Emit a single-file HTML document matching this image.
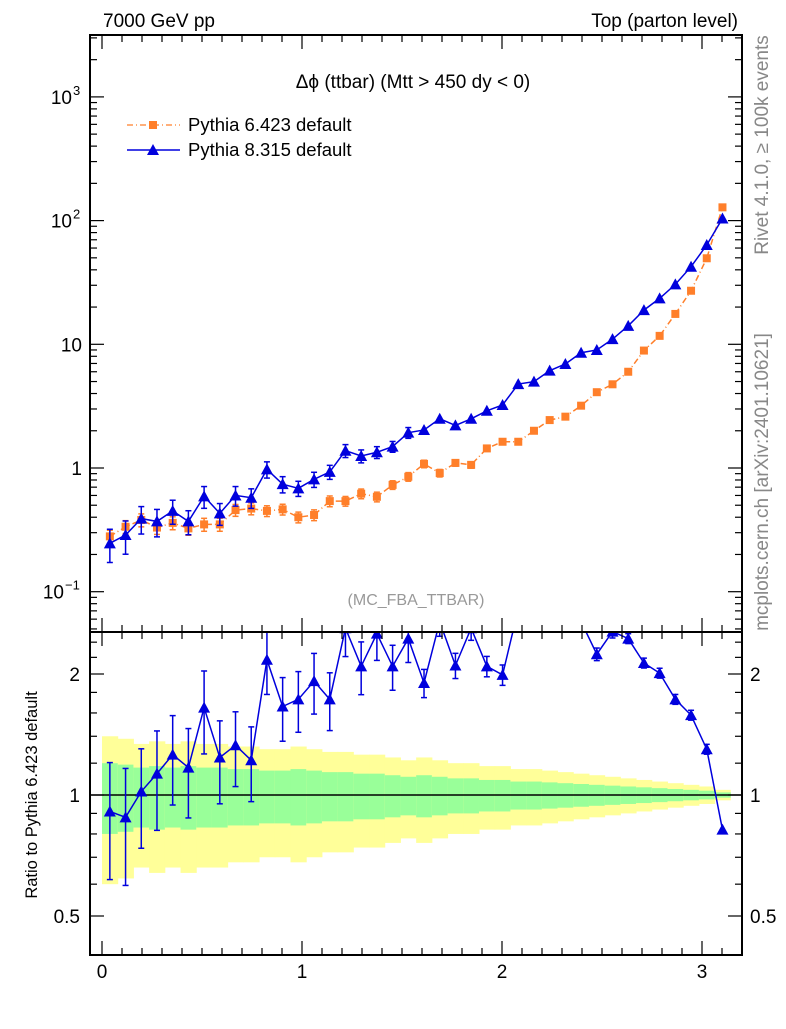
<!DOCTYPE html>
<html><head><meta charset="utf-8"><style>
body{margin:0;background:#fff;}
svg text{font-family:"Liberation Sans",sans-serif;}
</style></head><body>
<svg id="c" width="786" height="1024" xmlns="http://www.w3.org/2000/svg">
<defs>
<clipPath id="mainclip"><rect x="90" y="35" width="652" height="597"/></clipPath>
<clipPath id="ratioclip"><rect x="90" y="632" width="652" height="323"/></clipPath>
</defs>
<g id="bands" clip-path="url(#ratioclip)"></g>
<g id="marks"></g>
<g id="axes"></g>
<rect x="90" y="35" width="652" height="597" fill="none" stroke="#000" stroke-width="2"/>
<rect x="90" y="632" width="652" height="323" fill="none" stroke="#000" stroke-width="2"/>
<text x="103" y="27" font-size="19">7000 GeV pp</text>
<text x="738" y="27" font-size="19" text-anchor="end">Top (parton level)</text>
<text x="413" y="88" font-size="19" text-anchor="middle">Δϕ (ttbar) (Mtt &gt; 450 dy &lt; 0)</text>
<g>
<line x1="127" y1="125" x2="180" y2="125" stroke="#ff7f2a" stroke-width="1.3" stroke-dasharray="6,3,1,3"/>
<rect x="149" y="121" width="8" height="8" fill="#ff7f2a"/>
<text x="188" y="131" font-size="18.5">Pythia 6.423 default</text></g>
<g>
<line x1="127" y1="150" x2="180" y2="150" stroke="#0000dd" stroke-width="1.5"/>
<polygon points="153,144 159,155 147,155" fill="#0000dd"/>
<text x="188" y="156" font-size="18.5">Pythia 8.315 default</text></g>
<text x="416" y="605" font-size="16" fill="#999" text-anchor="middle">(MC_FBA_TTBAR)</text>
<text transform="translate(37,795) rotate(-90)" font-size="16.5" text-anchor="middle">Ratio to Pythia 6.423 default</text>
<text transform="translate(768,145) rotate(-90)" font-size="19" fill="#888" text-anchor="middle">Rivet 4.1.0, ≥ 100k events</text>
<text transform="translate(768,482) rotate(-90)" font-size="19" fill="#888" text-anchor="middle">mcplots.cern.ch [arXiv:2401.10621]</text>
</svg>
<script>
const p6 = [0.28,0.335,0.38,0.33,0.36,0.325,0.35,0.35,0.457,0.47,0.45,0.463,0.40,0.417,0.54,0.54,0.62,0.585,0.73,0.85,1.08,0.91,1.10,1.06,1.44,1.63,1.63,2.0,2.44,2.6,3.19,4.1,4.75,6.0,8.9,11.7,17.6,27.1,49.6,128];
const p8 = [0.246,0.287,0.39,0.37,0.45,0.37,0.59,0.43,0.60,0.575,0.975,0.74,0.685,0.81,0.93,1.38,1.25,1.34,1.49,1.93,2.03,2.5,2.21,2.5,2.9,3.23,4.77,4.99,6.12,6.93,8.55,9.0,11.0,14.1,18.9,23.5,30.5,42.4,63.5,104];
const ratio = [0.91,0.88,1.02,1.13,1.26,1.17,1.65,1.24,1.33,1.22,2.17,1.66,1.73,1.92,1.73,2.6,2.09,2.52,2.09,2.45,1.9,2.7,2.1,2.6,2.09,1.99,2.9,2.8,2.7,2.8,2.7,2.24,2.55,2.45,2.13,2.01,1.73,1.58,1.30,0.82];
const e6 = [0.12,0.12,0.12,0.12,0.12,0.12,0.12,0.12,0.11,0.11,0.1,0.1,0.1,0.1,0.1,0.09,0.09,0.09,0.08,0.08,0.07,0.07,0.06,0.06,0.05,0.05,0.04,0.04,0.03,0.03,0.03,0.03,0.03,0.02,0.02,0.02,0.02,0.02,0.02,0.01];
const e8 = [0.3,0.3,0.25,0.25,0.22,0.22,0.2,0.2,0.18,0.18,0.15,0.15,0.14,0.14,0.13,0.12,0.12,0.11,0.1,0.1,0.04,0.04,0.04,0.03,0.03,0.03,0.02,0.02,0.02,0.02,0.02,0.02,0.02,0.02,0.02,0.02,0.02,0.02,0.02,0.01];
const band = [0.20,0.19,0.17,0.18,0.17,0.18,0.17,0.17,0.16,0.16,0.15,0.15,0.16,0.15,0.14,0.14,0.13,0.13,0.12,0.11,0.12,0.11,0.10,0.10,0.09,0.09,0.08,0.08,0.075,0.07,0.065,0.06,0.055,0.05,0.045,0.04,0.035,0.03,0.025,0.015];
const xTicks = [0,1,2,3];
const yTicks = [0.1,1,10,100,1000];
const yTickBase = ["10","1","10","10","10"];
const yTickExp = ["−1","","","2","3"];
const rTicks = [0.5,1,2];

const NS="http://www.w3.org/2000/svg";
const NB=40, W=Math.PI/NB;
const X=v=>102+200*v;
const Y=v=>468-123.7*Math.log10(v);
const R=v=>795-121*Math.log2(v);
const cx=i=>X((i+0.5)*W);
function mk(parent,tag,attrs){const e=document.createElementNS(NS,tag);for(const k in attrs)e.setAttribute(k,attrs[k]);parent.appendChild(e);return e;}
const bands=document.getElementById('bands'), marks=document.getElementById('marks'), axes=document.getElementById('axes');

for(let i=0;i<NB;i++){
  const x0=X(i*W), x1=X((i+1)*W);
  let y=mk(bands,'rect',{x:x0,y:R(1+2*band[i]),width:x1-x0+0.5,height:R(Math.max(1-2*band[i],0.05))-R(1+2*band[i]),fill:'#ffff99'});
  
  
  let g=mk(bands,'rect',{x:x0,y:R(1+band[i]),width:x1-x0+0.5,height:R(1-band[i])-R(1+band[i]),fill:'#99ff99'});
  
  
}
let ref=mk(bands,'line',{x1:90,x2:742,y1:R(1),y2:R(1),stroke:'#000','stroke-width':1.5});



const gm=mk(marks,'g',{'clip-path':'url(#mainclip)'});
function series(vals,errs,color,dash,shape,name){
  const pts=vals.map((v,i)=>cx(i)+','+Y(v)).join(' ');
  const l=mk(gm,'polyline',{points:pts,fill:'none',stroke:color,'stroke-width':1.5,'stroke-dasharray':dash});
  
  
  vals.forEach((v,i)=>{
    const x=cx(i),y=Y(v),yt=Y(v*(1+errs[i])),yb=Y(v*(1-errs[i]));
    if(yb-yt>6){mk(gm,'line',{x1:x,x2:x,y1:yt,y2:yb,stroke:color,'stroke-width':1.5});
      mk(gm,'line',{x1:x-3,x2:x+3,y1:yt,y2:yt,stroke:color,'stroke-width':1.5});
      mk(gm,'line',{x1:x-3,x2:x+3,y1:yb,y2:yb,stroke:color,'stroke-width':1.5});}
    let m;
    if(shape==='sq') m=mk(gm,'rect',{x:x-4,y:y-4,width:8,height:8,fill:color});
    else m=mk(gm,'polygon',{points:`${x},${y-6} ${x+6},${y+5} ${x-6},${y+5}`,fill:color});
    
    
  });
}
series(p6,e6,'#ff7f2a','6,3,1,3','sq','pythia6');
series(p8,e8,'#0000dd','','tri','pythia8');

const gr=mk(marks,'g',{'clip-path':'url(#ratioclip)'});
const rl=mk(gr,'polyline',{points:ratio.map((v,i)=>cx(i)+','+R(v)).join(' '),fill:'none',stroke:'#0000dd','stroke-width':1.5});


ratio.forEach((v,i)=>{
  const x=cx(i),y=R(v),er=Math.sqrt(e6[i]*e6[i]+e8[i]*e8[i]);
  const yt=R(v*(1+er)),yb=R(v*(1-er));
  if(yb-yt>6){mk(gr,'line',{x1:x,x2:x,y1:yt,y2:yb,stroke:'#0000dd','stroke-width':1.5});
    mk(gr,'line',{x1:x-3,x2:x+3,y1:yt,y2:yt,stroke:'#0000dd','stroke-width':1.5});
    mk(gr,'line',{x1:x-3,x2:x+3,y1:yb,y2:yb,stroke:'#0000dd','stroke-width':1.5});}
  const m=mk(gr,'polygon',{points:`${x},${y-6} ${x+6},${y+5} ${x-6},${y+5}`,fill:'#0000dd'});
  
  
});

for(let d=-2;d<=3;d++){
  for(let k=1;k<10;k++){
    const v=k*Math.pow(10,d), y=Y(v);
    if(y<36||y>631) continue;
    const len=k===1?14:7;
    mk(axes,'line',{x1:90,x2:90+len,y1:y,y2:y,stroke:'#000','stroke-width':1.2});
    mk(axes,'line',{x1:742,x2:742-len,y1:y,y2:y,stroke:'#000','stroke-width':1.2});
  }
}
yTicks.forEach((v,i)=>{
  const hasExp=yTickExp[i]!=='';
  const t=mk(axes,'text',{x:hasExp?(yTickExp[i].length>1?64:72):82,y:Y(v)+7,'font-size':19,'text-anchor':'end'});
  t.textContent=yTickBase[i];
  
  
  if(hasExp){
    const s=mk(axes,'text',{x:yTickExp[i].length>1?65:73,y:Y(v)-2,'font-size':13});
    s.textContent=yTickExp[i];
    
    
  }
});
[0.5,0.6,0.7,0.8,0.9,1,1.2,1.4,1.6,1.8,2,2.2,2.4].forEach(v=>{
  const y=R(v);const len=rTicks.includes(v)?14:7;
  mk(axes,'line',{x1:90,x2:90+len,y1:y,y2:y,stroke:'#000','stroke-width':1.2});
  mk(axes,'line',{x1:742,x2:742-len,y1:y,y2:y,stroke:'#000','stroke-width':1.2});
});
rTicks.forEach(v=>{
  const t=mk(axes,'text',{x:80,y:R(v)+7,'font-size':19,'text-anchor':'end'});
  t.textContent=String(v);
  
  
  const t2=mk(axes,'text',{x:750,y:R(v)+7,'font-size':19});
  t2.textContent=String(v);
  
  
});
for(let k=0;k<=31;k++){
  const v=k/10,x=X(v);const len=k%10===0?14:7;
  [[35,1],[632,-1],[632,1],[955,-1]].forEach(([y0,s])=>mk(axes,'line',{x1:x,x2:x,y1:y0,y2:y0+s*len,stroke:'#000','stroke-width':1.2}));
}
xTicks.forEach(v=>{
  const t=mk(axes,'text',{x:X(v),y:978,'font-size':19,'text-anchor':'middle'});
  t.textContent=String(v);
  
  
});
</script>
</body></html>
